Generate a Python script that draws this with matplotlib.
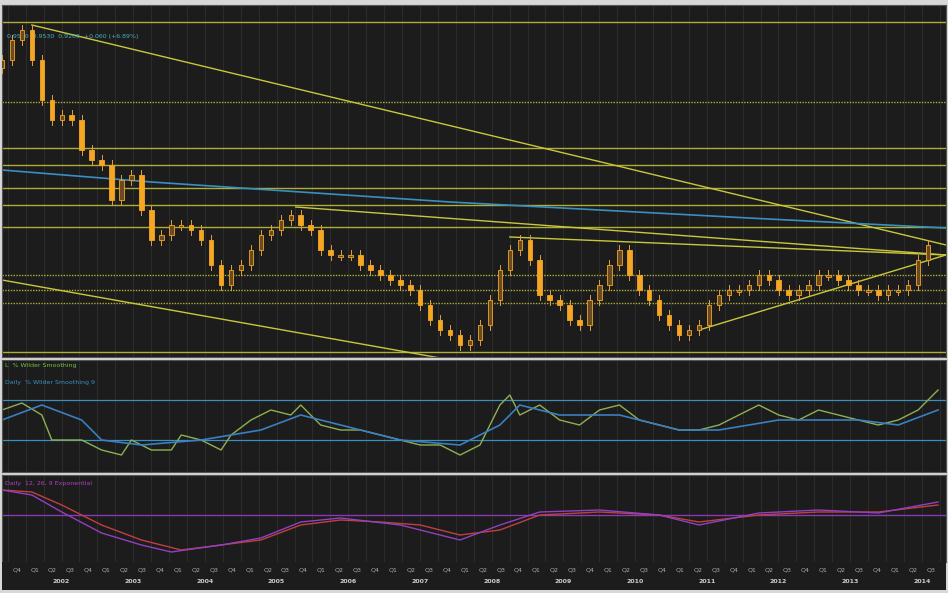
import matplotlib
matplotlib.use("Agg")
import matplotlib.pyplot as plt
import numpy as np

# price closes (chart units, higher value = lower on screen, as read)
closes = [60,40,30,60,100,120,115,120,150,160,165,200,180,175,210,240,235,225,225,230,240,265,285,270,265,250,
          235,230,220,215,225,230,250,255,255,255,265,270,275,280,285,290,305,320,330,335,345,340,325,300,270,250,
          240,260,295,300,305,320,325,300,285,265,250,275,290,300,315,325,335,330,325,305,295,290,290,285,275,280,
          290,295,290,285,275,275,280,285,290,290,295,290,290,285,260,245]
start_year = 2001.67
step = 10/72
hlines = [22,102,148,165,188,205,227,275,290,303,352]
diag = [((30,25),(948,245)),((0,280),(440,358)),((295,207),(948,255)),((510,237),(948,255)),((700,330),(948,255))]
ma_x = [0,150,300,450,600,750,948]
ma_y = [170,182,192,202,210,218,228]

g_x = [0,20,40,50,80,100,120,130,150,170,180,200,220,230,250,270,290,300,320,340,360,380,400,420,440,460,480,500,510,520,540,560,580,600,620,640,660,680,700,720,740,760,780,800,820,840,860,880,900,920,940]
g_y = [410,403,415,440,440,450,455,440,450,450,435,440,450,435,420,410,415,405,425,430,430,435,440,445,445,455,445,405,395,415,405,420,425,410,405,420,425,430,430,425,415,405,415,420,410,415,420,425,420,410,390]
b_x = [0,40,80,100,140,200,260,300,340,400,460,500,520,560,620,680,720,780,860,900,940]
b_y = [420,405,420,440,445,440,430,415,425,440,445,425,405,415,415,430,430,420,420,425,410]
r_x = [0,30,60,100,140,180,220,260,300,340,380,420,460,500,540,600,660,700,760,820,880,940]
r_y = [490,492,505,525,540,550,545,540,525,520,522,525,535,530,515,512,515,522,515,512,512,505]
p_x = [0,30,60,100,140,170,220,260,300,340,400,460,500,540,600,660,700,760,820,880,940]
p_y = [490,495,512,533,545,552,545,538,522,518,525,540,525,512,510,515,525,513,510,513,502]
years = list(range(2002, 2015))

def X(px): return start_year + np.asarray(px)/72

BG = "#1c1c1c"
fig = plt.figure(figsize=(9.48, 5.93), dpi=100, facecolor="#d8d8d8")
W, H = 948, 593
def axpos(top, bot): return [2/W, 1-bot/H, 944/W, (bot-top)/H]
ax1 = fig.add_axes(axpos(5, 357))
ax2 = fig.add_axes(axpos(360, 472))
ax3 = fig.add_axes(axpos(475, 562))
xlim = (start_year, X(948))
for ax in (ax1, ax2, ax3):
    ax.set_facecolor(BG)
    ax.set_xlim(*xlim)
    for q in np.arange(2001.75, 2015, 0.25):
        ax.axvline(q, color="#333333", lw=0.5, zorder=0)
    ax.set_xticks([]); ax.set_yticks([])
    for s in ax.spines.values(): s.set_color("#555555")
ax1.set_ylim(357, 5); ax2.set_ylim(472, 360); ax3.set_ylim(562, 475)

for y in hlines:
    ax1.axhline(y, color="#c8c83c", lw=1.0, ls=(0,(1,1)) if y in (102,275,290,303) else "-", alpha=0.85)
for (a, b) in diag:
    ax1.plot(X([a[0], b[0]]), [a[1], b[1]], color="#c8c83c", lw=1.0)
ax1.plot(X(ma_x), ma_y, color="#3a8fc0", lw=1.2)

prev = closes[0] + 8
for i, c in enumerate(closes):
    o = prev
    x = start_year + i*step
    hi, lo = min(o, c) - 5, max(o, c) + 5
    ax1.plot([x, x], [hi, lo], color="#e0a040", lw=0.7, zorder=3)
    bottom = min(o, c); h = max(abs(c-o), 2)
    col = "#f5a623" if c > o else "#6a4a20"
    ax1.bar(x, h, bottom=bottom, width=step*0.45, color=col, edgecolor="#f5a623", lw=0.6, zorder=4)
    prev = c
ax1.text(X(5), 38, "0.9530  0.9530  0.9265  +0.060 (+6.89%)", color="#4ab0c0", fontsize=4.5)

for y in (400, 440):
    ax2.axhline(y, color="#3a8fc0", lw=0.9)
ax2.plot(X(g_x), g_y, color="#8fb050", lw=1.0)
ax2.plot(X(b_x), b_y, color="#3a7fc0", lw=1.2)
ax2.text(X(3), 367, "L  % Wilder Smoothing", color="#70c040", fontsize=4.5)
ax2.text(X(3), 384, "Daily  % Wilder Smoothing 9", color="#3a8fc0", fontsize=4.5)

ax3.axhline(515, color="#8a3ab0", lw=1.0)
ax3.plot(X(r_x), r_y, color="#c04040", lw=1.0)
ax3.plot(X(p_x), p_y, color="#9040c0", lw=1.0)
ax3.text(X(3), 485, "Daily  12, 26, 9 Exponential", color="#b040c0", fontsize=4.5)

tax = fig.add_axes([2/W, 1-590/H, 944/W, 28/H])
tax.set_facecolor(BG); tax.set_xlim(*xlim); tax.set_ylim(0, 1)
tax.set_xticks([]); tax.set_yticks([])
for s in tax.spines.values(): s.set_visible(False)
for q in np.arange(2001.75, 2014.6, 0.25):
    qi = int(round((q % 1) / 0.25)) + 1
    tax.text(q + 0.125, 0.72, f"Q{qi}", color="#aaaaaa", fontsize=4.5, ha="center", va="center")
for yr in years:
    tax.text(yr + 0.5, 0.3, str(yr), color="#cccccc", fontsize=4.5, ha="center", va="center", weight="bold")

fig.savefig("out.png", dpi=100, facecolor=fig.get_facecolor())
